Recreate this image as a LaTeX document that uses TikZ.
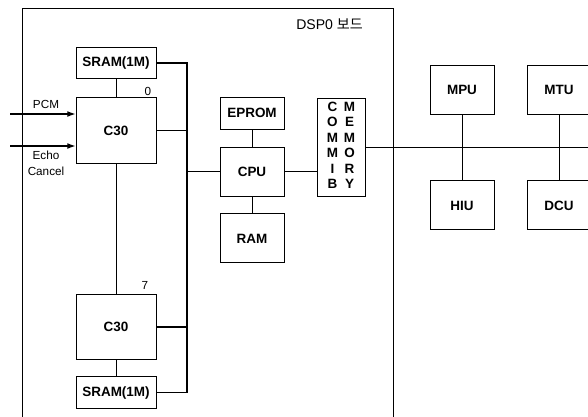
\documentclass[tikz,border=0pt]{standalone}
\usepackage{fontspec}
\setmainfont{Liberation Sans}
\newfontfamily\krfont{Noto Sans CJK KR}
\usetikzlibrary{positioning,arrows,arrows.meta}
\tikzset{
  block/.style={draw=black, thick, inner sep=0pt, font=\fontsize{11.5}{13}\selectfont\bfseries},
  sram/.style={block, minimum width=2.4cm, minimum height=0.95cm},
  dsp/.style={block, minimum width=2.4cm, minimum height=1.97cm},
  unit/.style={block, minimum width=1.92cm, minimum height=1.47cm},
  bus/.style={draw=black, line width=1.2pt},
  link/.style={draw=black, thick},
  frame/.style={draw=black, semithick},
  signal/.style={draw=black, line width=1pt, -{Latex[length=7pt,width=5pt]}},
  note/.style={inner sep=0pt, font=\fontsize{10}{13.5}\selectfont},
  title/.style={inner sep=0pt, font=\fontsize{12}{14}\selectfont}
}

\begin{document}
\begin{tikzpicture}[x=0.03cm, y=-0.03cm, node distance=0.5cm]
  \useasboundingbox (0,0) rectangle (588,416);

  \draw[frame] (22,420) |- (393,8) -- (393,420);
  \node[title, anchor=east] (board) at (363,24) {DSP0 {\krfont 보드}};

  \node[dsp] (c30a) at (116,130.5) {C30};
  \node[sram, above=0.54cm of c30a] (srama) {SRAM(1M)};
  \node[dsp] (c30b) at (116,327) {C30};
  \node[sram, below=0.48cm of c30b] (sramb) {SRAM(1M)};
  \node[note, anchor=south] (idxa) at (148,96) {0};
  \node[note, anchor=south] (idxb) at (145,290) {7};

  \node[unit] (cpu) at (252,171.5) {CPU};
  \node[block, minimum width=1.92cm, minimum height=0.96cm, above=0.51cm of cpu] (eprom) {EPROM};
  \node[unit, below=0.51cm of cpu] (ram) {RAM};
  \node[block, minimum width=1.44cm, minimum height=2.94cm] (comm) at (341,147)
    {\renewcommand{\arraystretch}{1.02}\begin{tabular}{@{}c@{\hspace{5pt}}c@{}}
      C&M\\ O&E\\ M&M\\ M&O\\ I&R\\ B&Y
    \end{tabular}};

  \node[unit] (mpu) at (462,89.5) {MPU};
  \node[unit, below=1.98cm of mpu] (hiu) {HIU};
  \node[unit] (mtu) at (559,89.5) {MTU};
  \node[unit, below=1.98cm of mtu] (dcu) {DCU};

  \coordinate (pcm) at (10,114);
  \coordinate (echo) at (10,146);
  \draw[signal] (pcm) -- (pcm -| c30a.west);
  \draw[signal] (echo) -- (echo -| c30a.west);
  \node[note] (pcmlbl) at (46,104) {PCM};
  \node[note, align=center] (echolbl) at (46,163) {Echo\\Cancel};

  \coordinate (bus) at (187,0);
  \draw[bus] (srama.east) -- (srama.east -| bus) -- (sramb.east -| bus) -- (sramb.east);
  \draw[bus] (c30a.east) -- (c30a.east -| bus);
  \draw[bus] (c30b.east) -- (c30b.east -| bus);
  \draw[bus] (cpu.west) -- (cpu.west -| bus);

  \draw[link] (srama) -- (c30a);
  \draw[link] (c30a) -- (c30b);
  \draw[link] (c30b) -- (sramb);
  \draw[link] (eprom) -- (cpu);
  \draw[link] (cpu) -- (ram);
  \draw[link] (cpu.east) -- (cpu.east -| comm.west);

  \coordinate (lan) at (592,147);
  \draw[link] (comm.east) -- (lan);
  \draw[link] (mpu) -- (hiu);
  \draw[link] (mtu) -- (dcu);
\end{tikzpicture}
\end{document}
